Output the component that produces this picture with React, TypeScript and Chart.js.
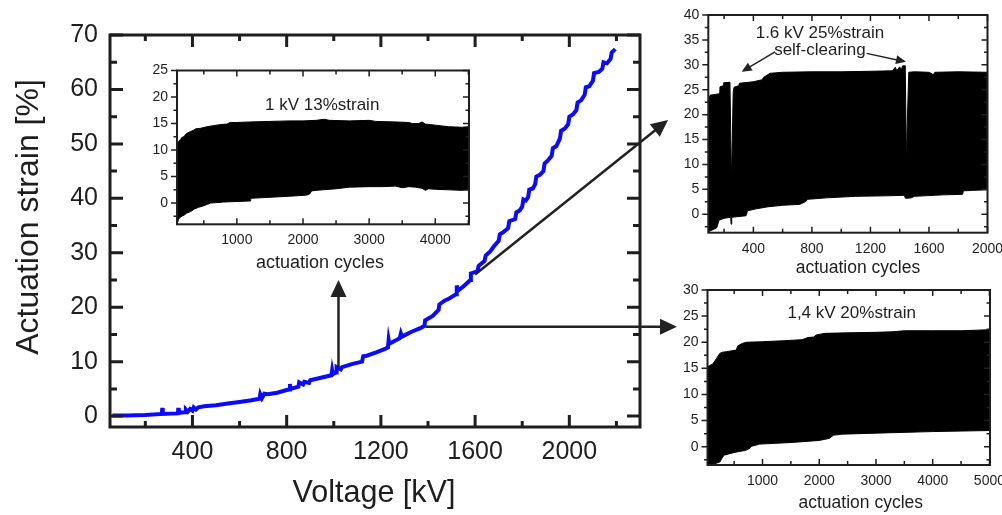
import React, { useEffect, useRef } from 'react';
import { Chart, registerables } from 'chart.js';

Chart.register(...registerables);

const W = 1002;
const H = 515;
const FONT = '"Liberation Sans", Arial, Helvetica, sans-serif';
const INK = '#1e1e1e';

// ---------- main chart: actuation strain vs voltage ----------
const voltage = [
  60, 120, 200, 270, 272, 274, 338, 340, 342, 370, 372, 380, 390, 400, 405, 415, 425, 450, 500, 550,
  600, 650, 685, 688, 695, 705, 720, 760, 800, 812, 814, 816, 850, 853, 870, 875, 895, 900, 950, 990,
  993, 996, 1010, 1012, 1030, 1035, 1080, 1120, 1125, 1140, 1180, 1220, 1230, 1233, 1236, 1280, 1285, 1290, 1330, 1370,
  1385, 1388, 1420, 1445, 1448, 1470, 1490, 1520, 1522, 1526, 1550, 1580, 1582, 1610, 1615, 1640, 1645, 1665, 1680, 1700,
  1705, 1720, 1740, 1745, 1770, 1775, 1790, 1800, 1805, 1815, 1825, 1830, 1845, 1855, 1860, 1875, 1890, 1895, 1910, 1925,
  1930, 1945, 1960, 1965, 1980, 1995, 2000, 2015, 2030, 2035, 2050, 2065, 2070, 2085, 2100, 2105, 2125, 2140, 2145, 2160,
  2175, 2180, 2195,
];
const strain = [
  0.1, 0.1, 0.2, 0.4, 1.5, 0.4, 0.5, 1.5, 0.6, 0.7, 1.2, 0.8, 1.3, 1.0, 1.6, 1.2, 1.6, 1.8, 2.0, 2.3,
  2.6, 2.9, 3.2, 4.0, 3.3, 4.1, 4.0, 4.3, 4.8, 4.9, 5.9, 5.0, 5.4, 6.2, 5.8, 6.3, 6.1, 6.6, 7.1, 7.5,
  8.4, 7.7, 8.0, 9.0, 8.6, 9.0, 9.6, 10.0, 11.0, 11.1, 11.7, 12.4, 12.6, 14.0, 13.3, 14.3, 15.2, 14.6, 15.5, 16.2,
  16.6, 17.6, 18.4, 19.5, 20.5, 21.2, 21.6, 22.4, 24.0, 23.0, 23.8, 25.0, 26.2, 26.6, 27.6, 28.5, 29.5, 30.3, 31.2, 32.2,
  33.4, 33.8, 34.5, 35.8, 36.2, 37.4, 37.8, 38.5, 39.8, 39.6, 40.2, 41.6, 41.8, 42.6, 44.0, 44.3, 45.0, 46.4, 47.0, 47.8,
  49.2, 49.6, 51.0, 52.4, 52.8, 53.6, 55.0, 55.4, 56.2, 57.6, 58.0, 59.0, 60.4, 60.6, 61.6, 63.0, 63.2, 63.8, 65.0, 64.8,
  65.6, 66.8, 67.4,
];
const mainXTicks = [400, 800, 1200, 1600, 2000];
const mainXMinor = [200, 600, 1000, 1400, 1800, 2200];
const mainYTicks = [0, 10, 20, 30, 40, 50, 60, 70];
const mainYMinor = [5, 15, 25, 35, 45, 55, 65];

// ---------- inset 1: 1 kV ----------
const in1UpperCycles = [95, 110, 130, 150, 170, 200, 220, 250, 300, 340, 380, 450, 550, 650, 750, 850, 900, 1000, 1200, 1500, 1800, 2000, 2200, 2320, 2400, 2700, 3000, 3100, 3400, 3600, 3650, 3750, 3800, 3850, 4000, 4200, 4400, 4510];
const in1UpperStrain = [11.0, 11.3, 11.8, 12.0, 12.4, 12.5, 12.9, 13.2, 13.5, 13.7, 14.0, 14.1, 14.4, 14.6, 14.8, 14.9, 15.2, 15.2, 15.3, 15.4, 15.5, 15.5, 15.6, 15.8, 15.6, 15.5, 15.6, 15.4, 15.3, 15.2, 15.0, 15.0, 15.3, 14.9, 14.7, 14.4, 14.3, 14.4];
const in1LowerCycles = [95, 120, 150, 180, 200, 240, 300, 360, 420, 500, 560, 600, 800, 1000, 1200, 1210, 1500, 1800, 2050, 2100, 2130, 2200, 2500, 2700, 3000, 3200, 3400, 3500, 3600, 3700, 3800, 3850, 3900, 4000, 4200, 4400, 4510];
const in1LowerStrain = [-4.0, -3.0, -2.6, -2.4, -2.3, -1.9, -1.6, -1.1, -0.8, -0.5, -0.2, 0.0, 0.2, 0.3, 0.4, 0.9, 1.1, 1.3, 1.5, 1.7, 2.3, 2.4, 2.7, 3.0, 3.1, 3.1, 3.2, 2.9, 3.1, 3.0, 2.8, 2.4, 2.7, 2.6, 2.5, 2.4, 2.5];
const in1XTicks = [1000, 2000, 3000, 4000];
const in1XMinor = [500, 1500, 2500, 3500, 4500];
const in1YTicks = [0, 5, 10, 15, 20, 25];
const in1YMinor = [-2.5, 2.5, 7.5, 12.5, 17.5, 22.5];

// ---------- inset 2: 1.6 kV ----------
const in2UpperCycles = [92, 104, 170, 172, 195, 197, 240, 250, 256, 262, 268, 300, 305, 400, 460, 470, 515, 600, 800, 1000, 1200, 1350, 1370, 1380, 1400, 1410, 1420, 1438, 1446, 1452, 1462, 1500, 1600, 1630, 1640, 1800, 2000];
const in2UpperStrain = [22.3, 23.9, 24.2, 25.6, 25.8, 26.4, 26.5, 6.5, 15.0, 24.5, 25.5, 25.8, 26.3, 26.6, 27.0, 27.5, 28.3, 28.5, 28.6, 28.6, 28.7, 28.8, 29.5, 28.8, 29.6, 28.9, 29.8, 29.8, 10.0, 18.5, 28.5, 28.6, 28.5, 28.0, 28.5, 28.6, 28.5];
const in2LowerCycles = [92, 130, 150, 165, 200, 245, 248, 252, 350, 360, 420, 500, 600, 720, 760, 770, 900, 1100, 1300, 1430, 1440, 1480, 1500, 1700, 1830, 1835, 1900, 2000];
const in2LowerStrain = [-3.5, -3.0, -2.7, -1.2, -0.8, -0.6, -2.0, -0.6, -0.3, 0.7, 1.1, 1.5, 1.8, 2.0, 2.6, 3.0, 3.3, 3.6, 3.7, 3.8, 3.2, 3.3, 3.6, 3.9, 4.0, 4.7, 4.8, 4.9];
const in2XTicks = [400, 800, 1200, 1600, 2000];
const in2XMinor = [200, 600, 1000, 1400, 1800];
const in2YTicks = [0, 5, 10, 15, 20, 25, 30, 35, 40];
const in2YMinor = [-2.5, 2.5, 7.5, 12.5, 17.5, 22.5, 27.5, 32.5, 37.5];

// ---------- inset 3: 1.4 kV ----------
const in3UpperCycles = [30, 60, 120, 190, 250, 300, 366, 540, 560, 650, 720, 1000, 1400, 1700, 1800, 1900, 1950, 2100, 2500, 3000, 3300, 3500, 4000, 4500, 5010];
const in3UpperStrain = [15.3, 15.5, 15.8, 16.9, 17.9, 18.1, 18.2, 18.5, 19.3, 19.8, 20.0, 20.1, 20.3, 20.5, 20.9, 21.0, 21.4, 21.7, 21.8, 21.9, 22.0, 22.2, 22.2, 22.2, 22.4];
const in3LowerCycles = [30, 100, 250, 300, 330, 500, 700, 760, 810, 950, 1500, 2000, 2180, 2250, 2400, 3000, 4000, 5010];
const in3LowerStrain = [-3.5, -3.5, -2.9, -1.9, -1.6, -1.1, -0.7, -0.4, 0.1, 0.5, 0.8, 1.2, 1.6, 2.2, 2.4, 2.6, 2.9, 3.1];
const in3XTicks = [1000, 2000, 3000, 4000, 5000];
const in3XMinor = [500, 1500, 2500, 3500, 4500];
const in3YTicks = [0, 5, 10, 15, 20, 25, 30];
const in3YMinor = [-2.5, 2.5, 7.5, 12.5, 17.5, 22.5, 27.5];

const pts = (xs: number[], ys: number[]) => xs.map((x, i) => ({ x, y: ys[i] }));

// ---------- plugins ----------
const frameTicksPlugin = {
  id: 'frameTicks',
  afterDatasetsDraw(chart: any, _args: any, o: any) {
    if (!o || !o.enabled) return;
    const { ctx, chartArea: a } = chart;
    const xs = chart.scales.x;
    const ys = chart.scales.y;
    ctx.save();
    ctx.strokeStyle = o.color;
    ctx.lineWidth = o.tickWidth;
    ctx.beginPath();
    const hx = (vals: number[], len: number) =>
      vals.forEach((v) => {
        const p = xs.getPixelForValue(v);
        ctx.moveTo(p, a.bottom);
        ctx.lineTo(p, a.bottom - len);
        ctx.moveTo(p, a.top);
        ctx.lineTo(p, a.top + len);
      });
    const vy = (vals: number[], len: number) =>
      vals.forEach((v) => {
        const p = ys.getPixelForValue(v);
        ctx.moveTo(a.left, p);
        ctx.lineTo(o.leftOut ? a.left - len : a.left + len, p);
        ctx.moveTo(a.right, p);
        ctx.lineTo(a.right - len, p);
      });
    hx(o.xMajor, o.xMajorLen);
    hx(o.xMinor, o.xMinorLen);
    vy(o.yMajor, o.yMajorLen);
    vy(o.yMinor, o.yMinorLen);
    ctx.stroke();
    ctx.lineWidth = o.frameWidth;
    ctx.strokeRect(a.left, a.top, a.right - a.left, a.bottom - a.top);
    ctx.restore();
  },
};

const notesPlugin = {
  id: 'notes',
  afterDraw(chart: any, _args: any, o: any) {
    if (!o) return;
    const { ctx, chartArea: a } = chart;
    const xs = chart.scales.x;
    const ys = chart.scales.y;
    ctx.save();
    (o.arrows || []).forEach((ar: any) => {
      const x1 = xs.getPixelForValue(ar.from[0]);
      const y1 = ys.getPixelForValue(ar.from[1]);
      const x2 = xs.getPixelForValue(ar.to[0]);
      const y2 = ys.getPixelForValue(ar.to[1]);
      const ang = Math.atan2(y2 - y1, x2 - x1);
      const bx = x2 - ar.headLen * Math.cos(ang);
      const by = y2 - ar.headLen * Math.sin(ang);
      ctx.strokeStyle = ar.color;
      ctx.fillStyle = ar.color;
      ctx.lineWidth = ar.width;
      ctx.beginPath();
      ctx.moveTo(x1, y1);
      ctx.lineTo(bx + Math.cos(ang), by + Math.sin(ang));
      ctx.stroke();
      ctx.beginPath();
      ctx.moveTo(x2, y2);
      ctx.lineTo(bx + ar.headHalf * Math.sin(ang), by - ar.headHalf * Math.cos(ang));
      ctx.lineTo(bx - ar.headHalf * Math.sin(ang), by + ar.headHalf * Math.cos(ang));
      ctx.closePath();
      ctx.fill();
    });
    ctx.fillStyle = INK;
    ctx.textAlign = 'center';
    ctx.textBaseline = 'middle';
    (o.labels || []).forEach((l: any) => {
      ctx.font = `${l.size}px ${FONT}`;
      ctx.fillText(l.text, xs.getPixelForValue(l.x), ys.getPixelForValue(l.y));
    });
    (o.titles || []).forEach((t: any) => {
      ctx.font = `${t.size}px ${FONT}`;
      if (t.side === 'bottom') {
        ctx.fillText(t.text, (a.left + a.right) / 2 + t.dx, a.bottom + t.dy);
      } else {
        ctx.save();
        ctx.translate(a.left - t.dx, (a.top + a.bottom) / 2 + t.dy);
        ctx.rotate(-Math.PI / 2);
        ctx.fillText(t.text, 0, 0);
        ctx.restore();
      }
    });
    ctx.restore();
  },
};

function makeConfig(spec: any) {
  const { area, datasets, xMin, xMax, yMin, yMax, xTicks, yTicks, tickSize, xPad, yPad, frame, notes } = spec;
  return {
    type: 'line',
    data: { datasets },
    plugins: [frameTicksPlugin, notesPlugin],
    options: {
      responsive: false,
      animation: false,
      devicePixelRatio: 1,
      events: [],
      layout: { padding: { left: 0, top: area.top, right: W - area.right, bottom: 0 } },
      plugins: {
        legend: { display: false },
        tooltip: { enabled: false },
        frameTicks: frame,
        notes,
      },
      scales: {
        x: {
          type: 'linear',
          min: xMin,
          max: xMax,
          grid: { display: false, drawTicks: false },
          border: { display: false },
          afterBuildTicks: (s: any) => {
            s.ticks = xTicks.map((v: number) => ({ value: v }));
          },
          afterFit: (s: any) => {
            s.height = H - area.bottom;
            s.paddingLeft = 0;
            s.paddingRight = 0;
          },
          ticks: {
            autoSkip: false,
            maxRotation: 0,
            padding: xPad,
            color: INK,
            font: { family: FONT, size: tickSize },
            callback: (v: any) => String(v),
          },
        },
        y: {
          type: 'linear',
          min: yMin,
          max: yMax,
          grid: { display: false, drawTicks: false },
          border: { display: false },
          afterBuildTicks: (s: any) => {
            s.ticks = yTicks.map((v: number) => ({ value: v }));
          },
          afterFit: (s: any) => {
            s.width = area.left;
            s.paddingTop = 0;
            s.paddingBottom = 0;
          },
          ticks: {
            autoSkip: false,
            padding: yPad,
            color: INK,
            font: { family: FONT, size: tickSize },
            callback: (v: any) => String(v),
          },
        },
      },
    },
  };
}

function envelope(upX: number[], upY: number[], loX: number[], loY: number[]) {
  return [
    {
      data: pts(upX, upY),
      borderColor: '#000',
      backgroundColor: '#000',
      borderWidth: 1,
      pointRadius: 0,
      tension: 0,
      fill: '+1',
    },
    {
      data: pts(loX, loY),
      borderColor: '#000',
      backgroundColor: '#000',
      borderWidth: 1,
      pointRadius: 0,
      tension: 0,
      fill: false,
    },
  ];
}

const insetFrame = (xMajor: number[], xMinor: number[], yMajor: number[], yMinor: number[]) => ({
  enabled: true,
  color: INK,
  tickWidth: 1.5,
  frameWidth: 2,
  leftOut: true,
  xMajor,
  xMinor,
  yMajor,
  yMinor,
  xMajorLen: 6,
  xMinorLen: 4,
  yMajorLen: 6,
  yMinorLen: 3.5,
});

const configs = [
  () =>
    makeConfig({
      area: { left: 110, top: 35, right: 640, bottom: 427 },
      xMin: 50,
      xMax: 2300,
      yMin: -2,
      yMax: 70,
      xTicks: mainXTicks,
      yTicks: mainYTicks,
      tickSize: 25,
      xPad: 10,
      yPad: 12,
      datasets: [
        {
          data: pts(voltage, strain),
          borderColor: '#0a0aff',
          borderWidth: 4,
          pointRadius: 0,
          tension: 0,
          fill: false,
        },
      ],
      frame: {
        enabled: true,
        color: INK,
        tickWidth: 3,
        frameWidth: 3,
        leftOut: false,
        xMajor: mainXTicks,
        xMinor: mainXMinor,
        yMajor: mainYTicks,
        yMinor: mainYMinor,
        xMajorLen: 12,
        xMinorLen: 6,
        yMajorLen: 13,
        yMinorLen: 7,
      },
      notes: {
        arrows: [
          { from: [1020, 9], to: [1020, 25], color: '#222', width: 2.5, headLen: 17, headHalf: 8 },
          { from: [1390, 16.4], to: [2457, 16.4], color: '#222', width: 2.5, headLen: 17, headHalf: 8 },
          { from: [1600, 26], to: [2419, 54.4], color: '#222', width: 2.5, headLen: 17, headHalf: 8 },
        ],
        titles: [
          { text: 'Voltage [kV]', side: 'bottom', dx: -1, dy: 67, size: 30.5 },
          { text: 'Actuation strain [%]', side: 'left', dx: 81, dy: -14, size: 32 },
        ],
      },
    }),
  () =>
    makeConfig({
      area: { left: 177, top: 70.5, right: 469, bottom: 224.3 },
      xMin: 95,
      xMax: 4510,
      yMin: -4,
      yMax: 25,
      xTicks: in1XTicks,
      yTicks: in1YTicks,
      tickSize: 14,
      xPad: 7,
      yPad: 9,
      datasets: envelope(in1UpperCycles, in1UpperStrain, in1LowerCycles, in1LowerStrain),
      frame: insetFrame(in1XTicks, in1XMinor, in1YTicks, in1YMinor),
      notes: {
        labels: [{ text: '1 kV 13%strain', x: 2290, y: 18.5, size: 17 }],
        titles: [{ text: 'actuation cycles', side: 'bottom', dx: -3, dy: 38.7, size: 18 }],
      },
    }),
  () =>
    makeConfig({
      area: { left: 708.3, top: 15, right: 987.5, bottom: 232.7 },
      xMin: 92,
      xMax: 2000,
      yMin: -3.7,
      yMax: 40,
      xTicks: in2XTicks,
      yTicks: in2YTicks,
      tickSize: 14,
      xPad: 8,
      yPad: 9,
      datasets: envelope(in2UpperCycles, in2UpperStrain, in2LowerCycles, in2LowerStrain),
      frame: insetFrame(in2XTicks, in2XMinor, in2YTicks, in2YMinor),
      notes: {
        arrows: [
          { from: [548, 32.6], to: [320, 28.6], color: '#222', width: 1.5, headLen: 10, headHalf: 4.5 },
          { from: [1174, 32.3], to: [1443, 30.6], color: '#222', width: 1.5, headLen: 10, headHalf: 4.5 },
        ],
        labels: [
          { text: '1.6 kV 25%strain', x: 855, y: 36.4, size: 17 },
          { text: 'self-clearing', x: 855, y: 32.9, size: 17 },
        ],
        titles: [{ text: 'actuation cycles', side: 'bottom', dx: 10, dy: 35.6, size: 17.5 }],
      },
    }),
  () =>
    makeConfig({
      area: { left: 707.5, top: 290, right: 990, bottom: 465 },
      xMin: 30,
      xMax: 5010,
      yMin: -3.5,
      yMax: 30,
      xTicks: in3XTicks,
      yTicks: in3YTicks,
      tickSize: 14,
      xPad: 8,
      yPad: 9,
      datasets: envelope(in3UpperCycles, in3UpperStrain, in3LowerCycles, in3LowerStrain),
      frame: insetFrame(in3XTicks, in3XMinor, in3YTicks, in3YMinor),
      notes: {
        labels: [{ text: '1,4 kV 20%strain', x: 2572, y: 25.5, size: 17 }],
        titles: [{ text: 'actuation cycles', side: 'bottom', dx: 12, dy: 38.3, size: 17.5 }],
      },
    }),
];

function ChartCanvas({ make }: { make: () => any }) {
  const ref = useRef<HTMLCanvasElement>(null);
  useEffect(() => {
    const chart = new Chart(ref.current as HTMLCanvasElement, make());
    return () => chart.destroy();
  }, [make]);
  return (
    <canvas
      ref={ref}
      width={W}
      height={H}
      style={{ position: 'absolute', left: 0, top: 0, width: W, height: H }}
    />
  );
}

export default function App() {
  return (
    <div
      style={{
        position: 'fixed',
        left: 0,
        top: 0,
        width: W,
        height: H,
        background: '#fff',
        overflow: 'hidden',
      }}
    >
      {configs.map((make, i) => (
        <ChartCanvas key={i} make={make} />
      ))}
    </div>
  );
}
